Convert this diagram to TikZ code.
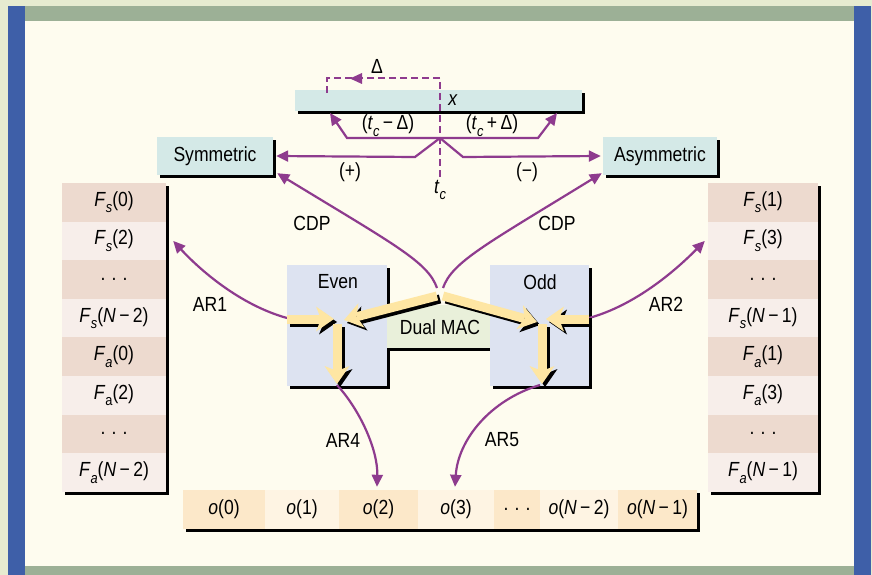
\documentclass[tikz,border=0pt]{standalone}
\usepackage{fontspec}
\setmainfont{Liberation Sans}[FakeStretch=0.86]
\usetikzlibrary{arrows.meta,shadows}

\definecolor{cream}{HTML}{FEFCEF}
\definecolor{frameblue}{HTML}{3E5FA8}
\definecolor{framegreen}{HTML}{9CB096}
\definecolor{photo}{HTML}{E6EBD0}
\definecolor{purp}{HTML}{8E3B8E}
\definecolor{cyanbox}{HTML}{D4E9E7}
\definecolor{lav}{HTML}{DDE3F1}
\definecolor{macgreen}{HTML}{E9F0DA}
\definecolor{coldark}{HTML}{EDDACF}
\definecolor{collight}{HTML}{F7EEEA}
\definecolor{odark}{HTML}{FCE8C9}
\definecolor{olight}{HTML}{FEF4E3}
\definecolor{fatyellow}{HTML}{FEE6A3}

\newcommand\sbs[1]{\raisebox{-0.33em}{\fontsize{15}{15}\selectfont #1}}
\newcommand\mi{\,−\,}
\newcommand\Fx[2]{\textit{F}\sbs{\itshape #1}(#2)}
\newcommand\ox[1]{\textit{o}(#1)}

\begin{document}
\begin{tikzpicture}[x=1bp,y=-1bp,font=\fontsize{20.5}{24}\selectfont,
  pa/.style={draw=purp,line width=2.2bp,-{Triangle[length=12bp,width=11bp]}},
  dsh/.style={draw=purp,line width=2.5bp,dash pattern=on 7bp off 4bp},
  lbl/.style={inner sep=0pt},
  tbox/.style={fill=cyanbox,inner sep=0pt,minimum height=38bp,
    drop shadow={shadow xshift=3bp,shadow yshift=-3bp,fill=black,opacity=1}},
  lcell/.style={inner sep=0pt,minimum height=38.6bp,minimum width=104bp},
  rcell/.style={inner sep=0pt,minimum height=38.6bp,minimum width=110bp},
  fatsh/.style={draw=black,line width=9bp,-{Stealth[length=18bp,width=25bp,inset=5bp,line width=0pt]}},
  fat/.style={draw=fatyellow,line width=9bp,-{Stealth[length=18bp,width=25bp,inset=5bp,line width=0pt]}}]

\useasboundingbox (0,0) rectangle (872,575);
% frame
\fill[photo] (0,0) rectangle (872,575);
\fill[cream] (25,21) rectangle (854,566);
\fill[frameblue] (8,6) rectangle (25,575);
\fill[frameblue] (854,6) rectangle (871,575);
\fill[framegreen] (25,6) rectangle (854,21);
\fill[framegreen] (25,566) rectangle (854,575);

% top bar and boxes
\node[fill=cyanbox,inner sep=0pt,minimum width=287bp,minimum height=21bp,
  drop shadow={shadow xshift=3bp,shadow yshift=-3bp,fill=black,opacity=1}] (xbar) at (438.5,100.5) {};
\node[tbox,minimum width=116bp] (sym) at (215,156) {Symmetric};
\node[tbox,minimum width=114bp] (asym) at (660,156) {Asymmetric};

% dashed t_c line
\coordinate (tcbot) at (440,177);
\coordinate (tctop) at (440,78);
\coordinate (dl) at (327,78);
\coordinate (dld) at (327,93);
\draw[dsh] (tcbot) -- (tctop) -- (dl) -- (dld);
\fill[purp] (350,78.5) -- (362,73) -- (362,84) -- cycle;

% purple connectors from t_c
\coordinate (hub) at (440,138);
\coordinate (upl) at (330,113);
\coordinate (upr) at (557,113);
\draw[pa] (hub) -- (347,138) -- (upl);
\draw[pa] (hub) -- (538,138) -- (upr);
\draw[pa] (hub) -- (415,157) -- ([xshift=3bp]sym.east);
\draw[pa] (hub) -- (463,157) -- ([xshift=-2bp]asym.west);

% columns
\fill[black] (65,186) rectangle (169,494.8);
\fill[black] (711,186) rectangle (821,494.8);
\foreach \i/\c/\t in {1/coldark/{\Fx{s}{0}},2/collight/{\Fx{s}{2}},3/coldark/{.\hspace{0.3em}.\hspace{0.3em}.},
  4/collight/{\Fx{s}{\textit{N}\mi 2}},5/coldark/{\Fx{a}{0}},6/collight/{\textit{F}\sbs{a}(2)},
  7/coldark/{.\hspace{0.3em}.\hspace{0.3em}.},8/collight/{\Fx{a}{\textit{N}\mi 2}}}
  \node[lcell,fill=\c] (L\i) at (114,{183+38.6*(\i-0.5)}) {\t};
\foreach \i/\c/\t in {1/coldark/{\Fx{s}{1}},2/collight/{\Fx{s}{3}},3/coldark/{.\hspace{0.3em}.\hspace{0.3em}.},
  4/collight/{\Fx{s}{\textit{N}\mi 1}},5/coldark/{\Fx{a}{1}},6/collight/{\Fx{a}{3}},
  7/coldark/{.\hspace{0.3em}.\hspace{0.3em}.},8/collight/{\Fx{a}{\textit{N}\mi 1}}}
  \node[rcell,fill=\c] (R\i) at (763,{183+38.6*(\i-0.5)}) {\t};

% bottom row
\fill[black] (186,493) rectangle (700,532);
\foreach \a/\b/\c/\t/\n in {183/265/odark/{\ox{0}}/O1,265/339/olight/{\ox{1}}/O2,
  339/418/odark/{\ox{2}}/O3,418/494/olight/{\ox{3}}/O4,
  494/540/odark/{.\hspace{0.3em}.\hspace{0.3em}.}/O5,540/618/olight/{\ox{\textit{N}\mi 2}}/O6,
  618/697/odark/{\ox{\textit{N}\mi 1}}/O7}
  \node[inner sep=0pt,minimum height=39bp,minimum width={(\b-\a)*1bp},fill=\c] (\n) at ({(\a+\b)/2},509.5) {\t};

% Even / Dual MAC / Odd
\fill[black] (290,268) rectangle (390,389);
\fill[black] (493,268) rectangle (592,389);
\fill[black] (390,308) rectangle (493,351);
\node[fill=lav,inner sep=0pt,minimum width=100bp,minimum height=121bp] (even) at (337,325.5) {};
\node[fill=lav,inner sep=0pt,minimum width=99bp,minimum height=121bp] (odd) at (539.5,325.5) {};
\node[fill=macgreen,inner sep=0pt,minimum width=103bp,minimum height=43bp] (dual) at (438.5,326.5) {};

% purple curved connectors
\coordinate (apexl) at (437,288);
\coordinate (apexr) at (443,288);
\draw[pa] (apexl) .. controls (428,262) and (395,245) .. ([shift={(4,-2)}]sym.south east);
\draw[pa] (apexr) .. controls (452,262) and (485,245) .. ([shift={(-1,-2)}]asym.south west);
\coordinate (ar1s) at (287,318);
\coordinate (ar2s) at (589,318);
\coordinate (ar4s) at (337,385);
\coordinate (ar5s) at (540,385);
\draw[pa] (ar1s) .. controls (240,305) and (200,270) .. ([xshift=7bp]L2.east);
\draw[pa] (ar2s) .. controls (636,305) and (676,270) .. ([xshift=-3bp]R2.west);
\draw[pa] (ar4s) .. controls (360,410) and (378,450) .. ([shift={(-1.5,-3)}]O3.north);
\draw[pa] (ar5s) .. controls (490,400) and (458,440) .. ([shift={(-1,-3)}]O4.north);

% fat yellow arrows
\coordinate (eh1) at (287,319);  \coordinate (eh2) at (334,319);
\coordinate (ev1) at (337,324);  \coordinate (ev2) at (337,384);
\coordinate (dl1) at (437,296);  \coordinate (dl2) at (344,320);
\coordinate (dr1) at (443,296);  \coordinate (dr2) at (537,322);
\coordinate (oh1) at (589,319);  \coordinate (oh2) at (546,319);
\coordinate (ov1) at (542,324);  \coordinate (ov2) at (542,384);
\foreach \p/\q in {eh1/eh2,ev1/ev2,dl1/dl2,dr1/dr2,oh1/oh2,ov1/ov2}
  \draw[fatsh] ([shift={(3,3)}]\p) -- ([shift={(3,3)}]\q);
\foreach \p/\q in {eh1/eh2,ev1/ev2,dl1/dl2,dr1/dr2,oh1/oh2,ov1/ov2}
  \draw[fat] (\p) -- (\q);

% labels
\node[lbl] (lev) at (338,282) {Even};
\node[lbl] (lodd) at (540,282) {Odd};
\node[lbl] (ldual) at (440,327) {Dual MAC};
\node[lbl] (ldelta) at (377,66) {Δ};
\node[lbl] (lx) at (453,100) {\textit{x}};
\node[lbl] (ltm) at (388,126) {(\textit{t}\sbs{\itshape c}\mi Δ)};
\node[lbl] (ltp) at (492,126) {(\textit{t}\sbs{\itshape c}\,+\,Δ)};
\node[lbl] (lplus) at (350,172) {(+)};
\node[lbl] (lminus) at (527,172) {(−)};
\node[lbl] (ltc) at (440,190) {\textit{t}\sbs{\itshape c}};
\node[lbl] (lcdp1) at (312,223) {CDP};
\node[lbl] (lcdp2) at (557,223) {CDP};
\node[lbl] (lar1) at (210,304) {AR1};
\node[lbl] (lar2) at (666,304) {AR2};
\node[lbl] (lar4) at (343,440) {AR4};
\node[lbl] (lar5) at (502,440) {AR5};
\end{tikzpicture}
\end{document}
